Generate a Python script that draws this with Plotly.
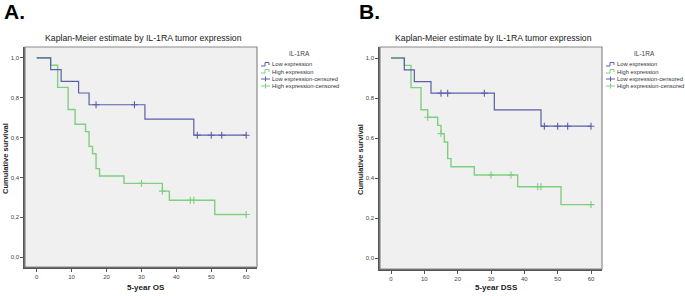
import plotly.graph_objects as go

# ---------------- data ----------------
# Panel A: 5-year OS
a_low_t = [0, 4, 7, 12, 15, 31, 45, 60]
a_low_s = [1.0, 0.941, 0.882, 0.824, 0.765, 0.693, 0.612, 0.612]
a_low_ct = [17, 28, 46, 50, 53, 60]
a_low_cs = [0.765, 0.765, 0.612, 0.612, 0.612, 0.612]

a_high_t = [0, 4, 6, 9, 11, 14, 15, 16, 17, 18, 25, 36, 38, 51, 60]
a_high_s = [1.0, 0.963, 0.852, 0.741, 0.667, 0.630, 0.556, 0.519, 0.444, 0.407, 0.370, 0.331, 0.285, 0.214, 0.214]
a_high_ct = [30, 36, 44, 45, 60]
a_high_cs = [0.370, 0.331, 0.285, 0.285, 0.214]

# Panel B: 5-year DSS
b_low_t = [0, 4, 7, 12, 31, 45, 60]
b_low_s = [1.0, 0.941, 0.882, 0.824, 0.741, 0.659, 0.659]
b_low_ct = [15, 17, 28, 46, 50, 53, 60]
b_low_cs = [0.824, 0.824, 0.824, 0.659, 0.659, 0.659, 0.659]

b_high_t = [0, 4, 6, 9, 11, 14, 15, 16, 17, 18, 25, 38, 51, 60]
b_high_s = [1.0, 0.963, 0.852, 0.741, 0.704, 0.663, 0.622, 0.580, 0.497, 0.456, 0.415, 0.356, 0.267, 0.267]
b_high_ct = [11, 15, 30, 36, 44, 45, 60]
b_high_cs = [0.704, 0.622, 0.415, 0.415, 0.356, 0.356, 0.267]

x_ticks = [0, 10, 20, 30, 40, 50, 60]
y_ticks = [0.0, 0.2, 0.4, 0.6, 0.8, 1.0]
legend_title = "IL-1RA"
legend_labels = ["Low expression", "High expression", "Low expression-censored", "High expression-censored"]
chart_title = "Kaplan-Meier estimate by IL-1RA tumor expression"

BLUE = "#5b5fa6"
GREEN = "#7fcf80"
FONT = "Liberation Sans"
W, H = 685, 296

fig = go.Figure()

panels = [
    dict(xa="x", ya="y", low=(a_low_t, a_low_s, a_low_ct, a_low_cs),
         high=(a_high_t, a_high_s, a_high_ct, a_high_cs)),
    dict(xa="x2", ya="y2", low=(b_low_t, b_low_s, b_low_ct, b_low_cs),
         high=(b_high_t, b_high_s, b_high_ct, b_high_cs)),
]

for p in panels:
    for key, col, w in (("high", GREEN, 1.4), ("low", BLUE, 1.2)):
        t, s, ct, cs = p[key]
        fig.add_trace(go.Scatter(x=t, y=s, mode="lines", line=dict(color=col, width=w, shape="hv"),
                                 xaxis=p["xa"], yaxis=p["ya"], showlegend=False, hoverinfo="skip"))
        fig.add_trace(go.Scatter(x=ct, y=cs, mode="markers",
                                 marker=dict(symbol="cross-thin", size=5, line=dict(color=col, width=1.1)),
                                 xaxis=p["xa"], yaxis=p["ya"], showlegend=False, hoverinfo="skip"))

# plot area in pixels: (left, right, top, bottom)
boxes = [(25, 257, 47, 267), (380, 602, 47, 269)]
def px2x(v): return v / W
def px2y(v): return 1 - v / H

axis_common = dict(showgrid=False, zeroline=False, showline=True, linecolor="#555555", linewidth=1.5,
                   ticks="outside", ticklen=3, tickwidth=1, tickcolor="#555555",
                   tickfont=dict(family=FONT, size=6, color="#444444"))

(l1, r1, t1, b1), (l2, r2, t2, b2) = boxes
fig.update_layout(
    xaxis=dict(domain=[px2x(l1), px2x(r1)], range=[-3.35, 63.1], tickvals=x_ticks, anchor="y", **axis_common),
    yaxis=dict(domain=[px2y(b1), px2y(t1)], range=[-0.05, 1.055], tickvals=y_ticks, tickformat=".1f",
               anchor="x", **axis_common),
    xaxis2=dict(domain=[px2x(l2), px2x(r2)], range=[-3.3, 63.3], tickvals=x_ticks, anchor="y2", **axis_common),
    yaxis2=dict(domain=[px2y(b2), px2y(t2)], range=[-0.055, 1.055], tickvals=y_ticks, tickformat=".1f",
                anchor="x2", **axis_common),
    separators=",.",
    width=W, height=H,
    margin=dict(l=0, r=0, t=0, b=0),
    paper_bgcolor="white",
    plot_bgcolor="#f0f0f0",
    showlegend=False,
)

shapes = []
annotations = []
for i, (l, r, t, b) in enumerate(boxes):
    shapes.append(dict(type="rect", xref="paper", yref="paper", x0=px2x(l), x1=px2x(r), y0=px2y(b), y1=px2y(t),
                       line=dict(color="#8a8a8a", width=1.2), fillcolor="rgba(0,0,0,0)", layer="above"))
    cx = (l + r) / 2
    annotations.append(dict(text=chart_title, x=px2x(cx + 2), y=px2y(38), xref="paper", yref="paper",
                            showarrow=False, xanchor="center", yanchor="middle",
                            font=dict(family=FONT, size=8.7, color="#1a1a1a")))
    annotations.append(dict(text="<b>Cumulative survival</b>", x=px2x(l - 20), y=px2y((t + b) / 2 + 2),
                            xref="paper", yref="paper", showarrow=False, textangle=-90,
                            xanchor="center", yanchor="middle", font=dict(family=FONT, size=7.5, color="#222222")))
    annotations.append(dict(text="<b>" + ("5-year OS" if i == 0 else "5-year DSS") + "</b>",
                            x=px2x(cx + 5), y=px2y(287), xref="paper", yref="paper", showarrow=False,
                            xanchor="center", yanchor="middle", font=dict(family=FONT, size=8, color="#222222")))
    annotations.append(dict(text="<b>" + ("A." if i == 0 else "B.") + "</b>", x=px2x(l - 25 + 2), y=px2y(11),
                            xref="paper", yref="paper", showarrow=False, xanchor="left", yanchor="middle",
                            font=dict(family=FONT, size=21, color="black")))
    gx = r + 4
    annotations.append(dict(text=legend_title, x=px2x(gx + 38), y=px2y(53), xref="paper", yref="paper",
                            showarrow=False, xanchor="center", yanchor="middle",
                            font=dict(family=FONT, size=6.5, color="#444444")))
    item_y = [64.5, 71.5, 79, 86]
    cols = [BLUE, GREEN, BLUE, GREEN]
    for k, (yy, col, lab) in enumerate(zip(item_y, cols, legend_labels)):
        if k < 2:
            path = "M {} {} L {} {} L {} {} L {} {} L {} {}".format(
                px2x(gx), px2y(yy + 1.5), px2x(gx + 4), px2y(yy + 1.5), px2x(gx + 4), px2y(yy - 2),
                px2x(gx + 8), px2y(yy - 2), px2x(gx + 8), px2y(yy + 0.5))
            shapes.append(dict(type="path", xref="paper", yref="paper", path=path,
                               line=dict(color=col, width=1)))
        else:
            shapes.append(dict(type="line", xref="paper", yref="paper", x0=px2x(gx), x1=px2x(gx + 9),
                               y0=px2y(yy), y1=px2y(yy), line=dict(color=col, width=1)))
            shapes.append(dict(type="line", xref="paper", yref="paper", x0=px2x(gx + 4.5), x1=px2x(gx + 4.5),
                               y0=px2y(yy - 2.5), y1=px2y(yy + 2.5), line=dict(color=col, width=1)))
        annotations.append(dict(text=lab, x=px2x(gx + 8.5), y=px2y(yy), xref="paper", yref="paper",
                                showarrow=False, xanchor="left", yanchor="middle",
                                font=dict(family=FONT, size=5.8, color="#333333")))

fig.update_layout(shapes=shapes, annotations=annotations)
fig.write_html("out.html", config={"displayModeBar": False},
               post_script="document.body.style.margin='0';document.body.style.padding='0';")
